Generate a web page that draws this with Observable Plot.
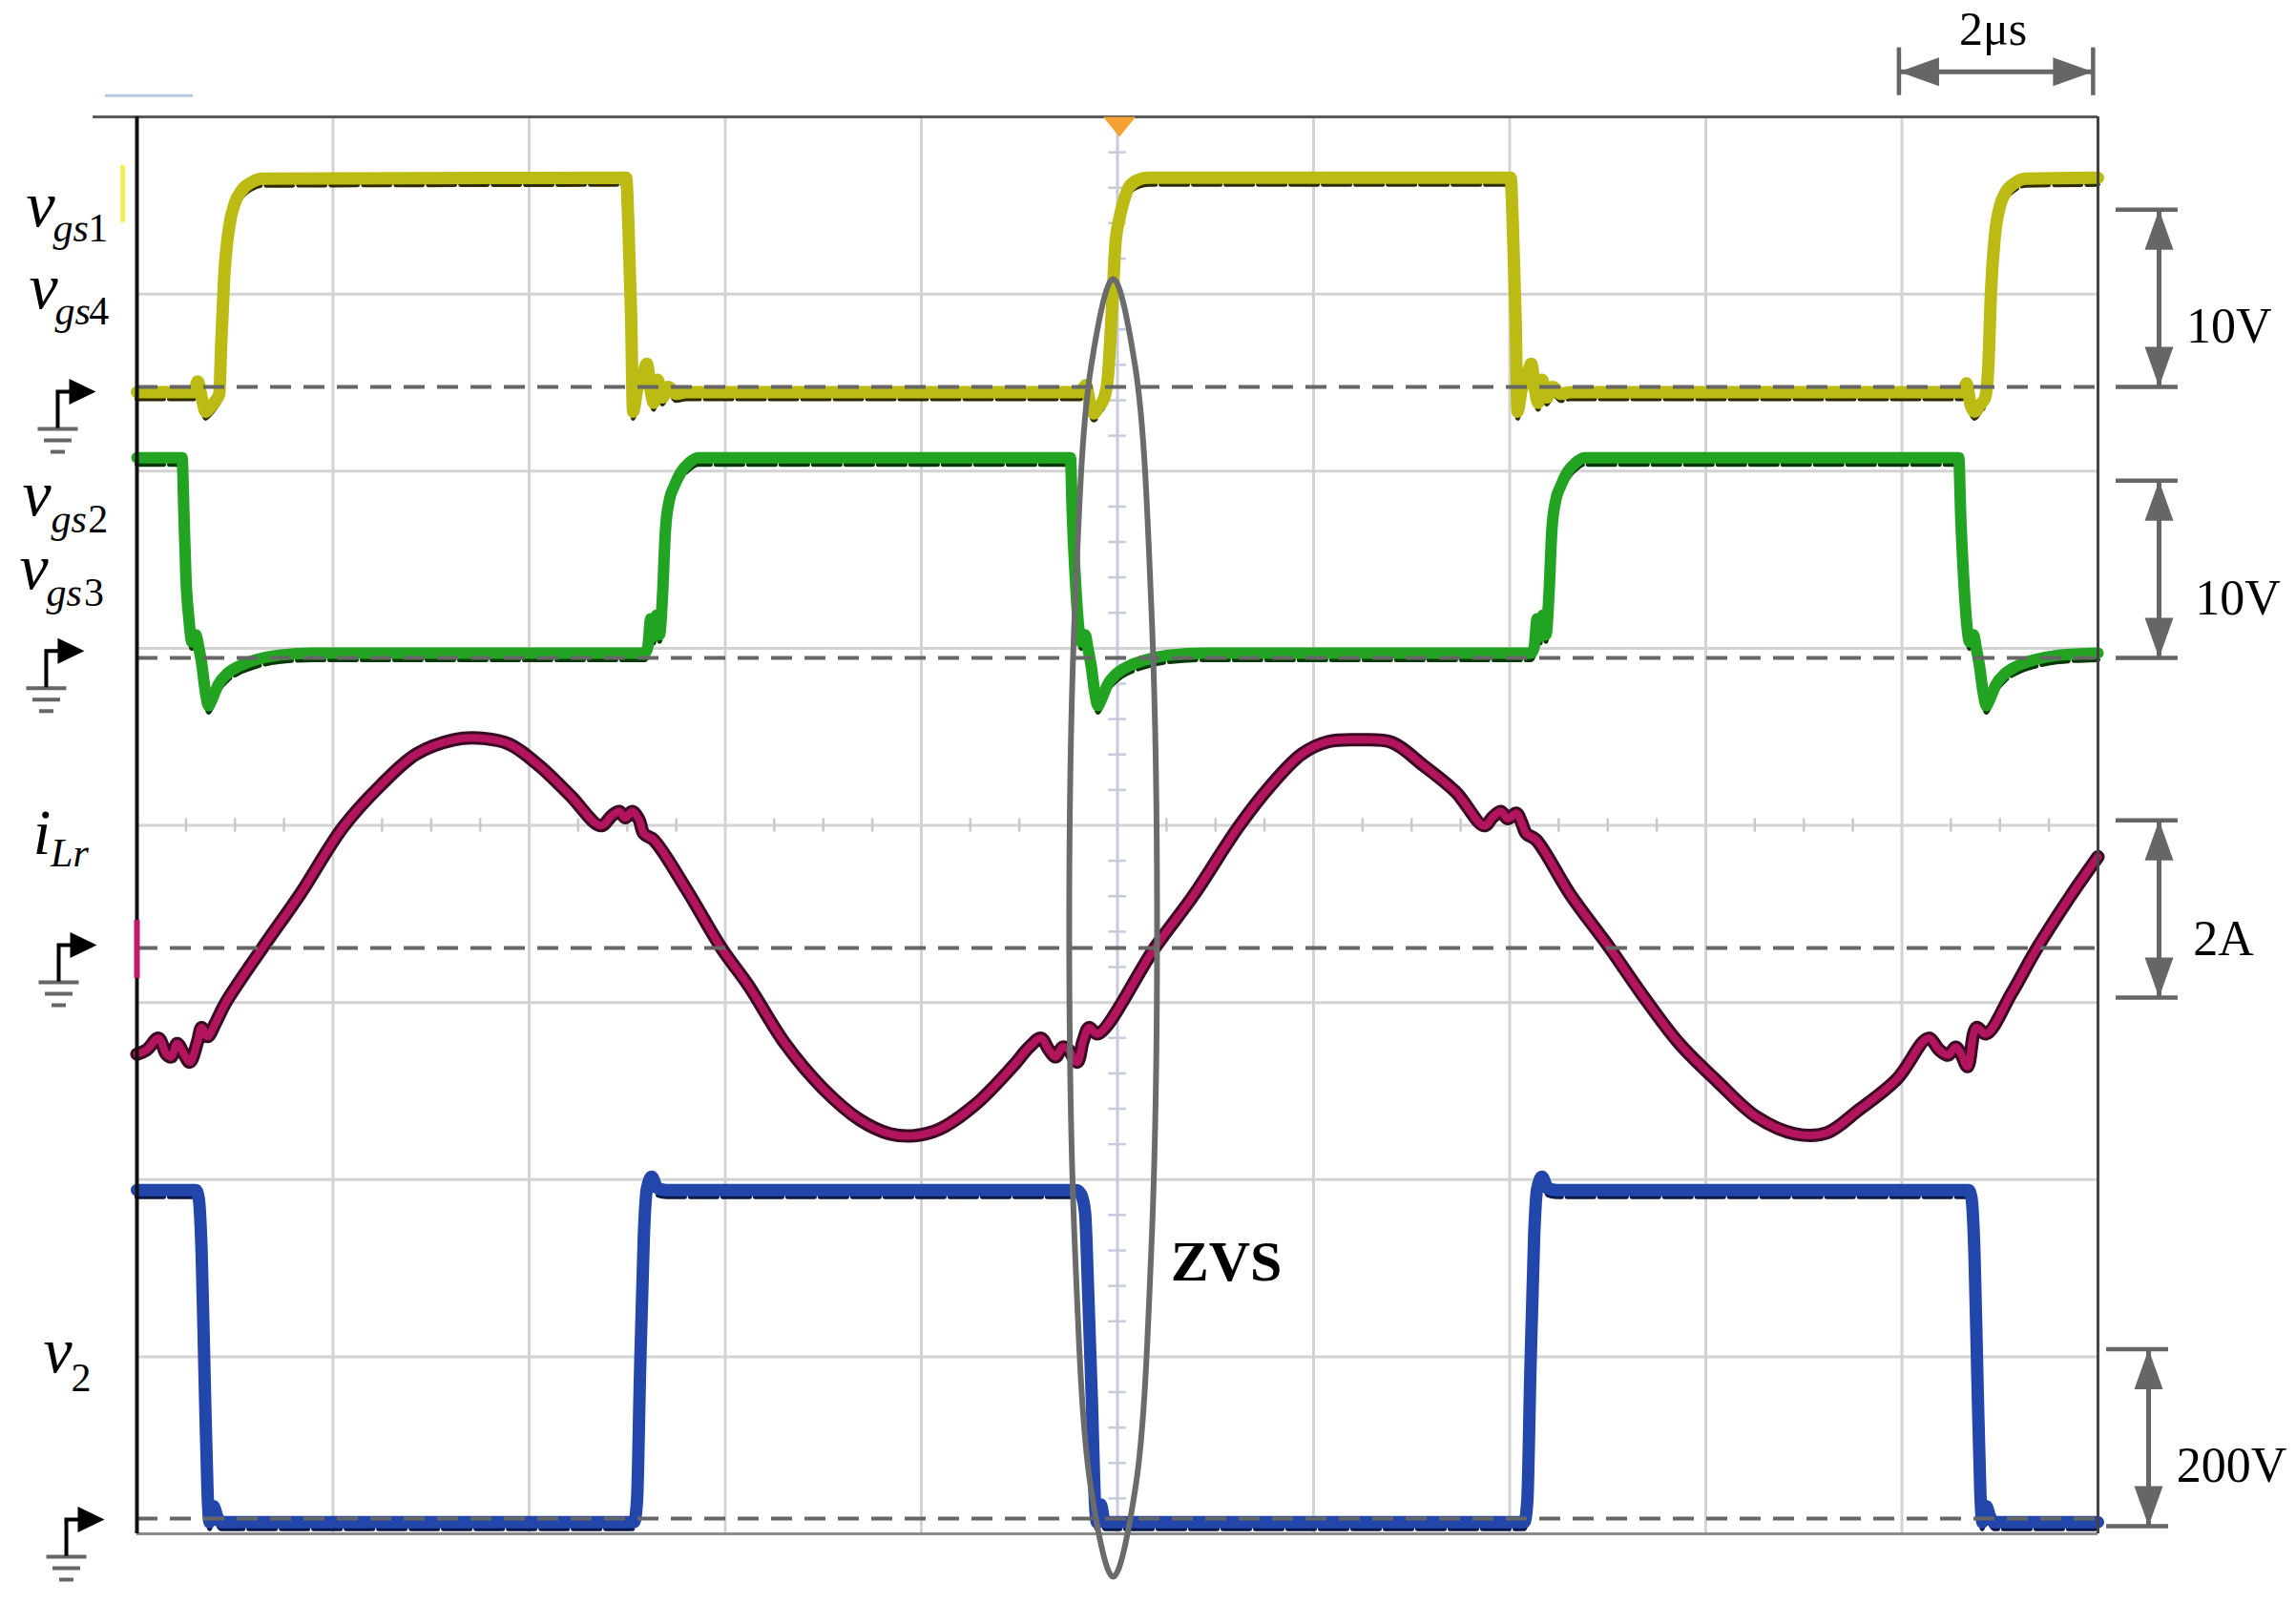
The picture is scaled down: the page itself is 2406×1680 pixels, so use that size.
<!DOCTYPE html>
<html>
<head>
<meta charset="utf-8">
<script src="https://cdn.jsdelivr.net/npm/d3@7"></script>
<script src="https://cdn.jsdelivr.net/npm/@observablehq/plot@0.6"></script>
<style>
  html, body { margin: 0; padding: 0; background: #fff; overflow: hidden; }
  svg { display: block; }
</style>
</head>
<body>
<div id="chart"></div>
<script>
// ---------------- DATA (time in µs, values in V or A) ----------------
const vgs14 = [
  [0, -0.3], [0.58, -0.3], [0.62, 0.3], [0.66, -0.6], [0.70, -1.4], [0.74, -1.2], [0.80, -0.8], [0.84, -0.4],
  [0.86, 2.5], [0.89, 6.2], [0.94, 9.0], [1.00, 10.4], [1.07, 11.1], [1.17, 11.55], [1.28, 11.75], [4.99, 11.8],
  [5.01, 9.5], [5.04, 4.0], [5.06, -1.4], [5.10, -0.2], [5.15, 0.4], [5.20, 1.3], [5.24, -0.2], [5.27, -0.9],
  [5.31, 0.4], [5.36, -0.6], [5.42, 0.0], [5.50, -0.4], [5.60, -0.3],
  [9.62, -0.3], [9.68, 0.1], [9.72, -1.0], [9.76, -1.5], [9.81, -1.1], [9.86, -0.7], [9.90, 0.4], [9.95, 5.0],
  [9.98, 8.1], [10.02, 9.5], [10.07, 10.6], [10.12, 11.3], [10.22, 11.7], [10.32, 11.8],
  [14.01, 11.8], [14.03, 9.5], [14.06, 4.0], [14.08, -1.4], [14.12, -0.2], [14.17, 0.4], [14.22, 1.3], [14.26, -0.2],
  [14.29, -0.9], [14.33, 0.4], [14.38, -0.6], [14.44, 0.0], [14.52, -0.4], [14.62, -0.3],
  [18.62, -0.3], [18.66, 0.2], [18.70, -1.0], [18.74, -1.4], [18.80, -1.0], [18.85, -0.6], [18.88, 1.0], [18.91, 5.5],
  [18.95, 8.6], [19.00, 10.2], [19.06, 11.0], [19.15, 11.5], [19.26, 11.75], [20, 11.8]
];
const vgs23 = [
  [0, 11.3], [0.46, 11.3], [0.48, 8.0], [0.50, 4.5], [0.53, 2.2], [0.56, 0.9], [0.60, 1.3], [0.63, 0.6], [0.66, -0.3],
  [0.70, -2.0], [0.73, -2.7], [0.77, -2.3], [0.83, -1.5], [0.92, -0.9], [1.05, -0.45], [1.22, -0.1], [1.45, 0.15], [1.8, 0.27],
  [5.18, 0.27], [5.21, 0.6], [5.24, 2.2], [5.27, 1.2], [5.30, 2.4], [5.33, 1.3], [5.36, 3.5], [5.39, 7.2], [5.43, 8.9],
  [5.48, 9.7], [5.55, 10.5], [5.63, 11.0], [5.72, 11.3],
  [9.52, 11.3], [9.54, 8.0], [9.57, 4.5], [9.60, 2.0], [9.63, 0.9], [9.67, 1.3], [9.70, 0.5], [9.73, -0.4], [9.77, -2.0],
  [9.80, -2.7], [9.84, -2.3], [9.90, -1.5], [9.99, -0.9], [10.12, -0.45], [10.30, -0.1], [10.52, 0.15], [10.9, 0.27],
  [14.22, 0.27], [14.25, 0.6], [14.28, 2.2], [14.31, 1.2], [14.34, 2.4], [14.37, 1.3], [14.40, 3.5], [14.43, 7.2],
  [14.47, 8.9], [14.52, 9.7], [14.59, 10.5], [14.67, 11.0], [14.76, 11.3],
  [18.58, 11.3], [18.60, 8.0], [18.63, 4.5], [18.66, 2.0], [18.69, 0.9], [18.73, 1.3], [18.76, 0.5], [18.79, -0.4],
  [18.83, -2.0], [18.86, -2.7], [18.90, -2.3], [18.96, -1.5], [19.05, -0.9], [19.18, -0.45], [19.36, -0.1], [19.6, 0.15], [20, 0.27]
];
const iLr = [
  [0, -1.2], [0.10, -1.15], [0.22, -1.02], [0.30, -1.2], [0.35, -1.23], [0.41, -1.08], [0.48, -1.2], [0.54, -1.29],
  [0.62, -1.05], [0.66, -0.9], [0.72, -1.0], [0.80, -0.85], [0.91, -0.61], [1.28, 0], [1.66, 0.60], [2.10, 1.36],
  [2.48, 1.83], [2.85, 2.19], [3.23, 2.35], [3.48, 2.37], [3.80, 2.30], [4.11, 2.05], [4.42, 1.72], [4.73, 1.38],
  [4.85, 1.50], [4.92, 1.54], [4.98, 1.47], [5.05, 1.54], [5.12, 1.45], [5.17, 1.29], [5.27, 1.22], [5.61, 0.65],
  [5.96, 0], [6.24, -0.43], [6.61, -1.08], [6.99, -1.58], [7.37, -1.94], [7.68, -2.1], [7.93, -2.12], [8.18, -2.05],
  [8.55, -1.77], [8.93, -1.34], [9.10, -1.12], [9.22, -1.02], [9.30, -1.15], [9.37, -1.23], [9.44, -1.12], [9.50, -1.15],
  [9.59, -1.29], [9.65, -1.05], [9.71, -0.9], [9.80, -0.97], [10.38, 0], [10.78, 0.60], [11.23, 1.36], [11.56, 1.83],
  [11.88, 2.19], [12.15, 2.33], [12.47, 2.35], [12.80, 2.32], [13.12, 2.06], [13.45, 1.76], [13.74, 1.38], [13.83, 1.48],
  [13.91, 1.54], [13.98, 1.46], [14.07, 1.52], [14.12, 1.42], [14.17, 1.29], [14.27, 1.22], [14.62, 0.6], [15.02, 0],
  [15.34, -0.51], [15.73, -1.08], [16.12, -1.51], [16.52, -1.91], [16.91, -2.1], [17.23, -2.09], [17.56, -1.83],
  [17.95, -1.48], [18.27, -1.02], [18.38, -1.15], [18.47, -1.21], [18.55, -1.12], [18.60, -1.19], [18.67, -1.34],
  [18.76, -0.9], [18.86, -0.97], [19.12, -0.51], [19.38, 0], [19.71, 0.57], [20, 1.03]
];
const v2 = [
  [0, 371], [0.60, 371], [0.63, 362], [0.66, 300], [0.69, 160], [0.72, 30], [0.74, -4], [0.78, 14], [0.82, 2], [0.86, -4],
  [5.07, -4], [5.10, 20], [5.13, 160], [5.17, 320], [5.20, 372], [5.25, 386], [5.31, 373], [5.40, 371],
  [9.58, 371], [9.63, 366], [9.67, 345], [9.70, 260], [9.74, 130], [9.77, 20], [9.79, -4], [9.83, 16], [9.87, -4],
  [14.15, -4], [14.18, 20], [14.21, 160], [14.25, 320], [14.28, 372], [14.33, 386], [14.39, 373], [14.48, 371],
  [18.68, 371], [18.71, 362], [18.74, 300], [18.77, 160], [18.80, 30], [18.82, -4], [18.86, 14], [18.90, 2], [18.94, -4], [20, -4]
];

// scope settings: time base 2 µs/div (10 div), 8 vertical divisions
const timeGrid = [2, 4, 6, 8, 10, 12, 14, 16, 18];
const divGrid = [1, 2, 3, 4, 5, 6, 7];
const scaleTexts = ["10V", "10V", "2A", "200V"];
const timeScaleText = "2μs";

// ---------------- CHANNEL SETUP (offsets in divisions, units per division, styles) ----------------
const channels = [
  {data: vgs14, ground: 6.476, perDiv: 10, color: "#bbbb14", dark: "#2c2c00", w: 13, outline: false, curve: "monotone-x"},
  {data: vgs23, ground: 4.946, perDiv: 10, color: "#22a322", dark: "#083808", w: 12, outline: false, curve: "monotone-x"},
  {data: iLr,   ground: 3.308, perDiv: 2,  color: "#b2155e", dark: "#3a0a22", w: 8,  outline: true, curve: "catmull-rom"},
  {data: v2,    ground: 0.086, perDiv: 200, color: "#2246aa", dark: "#08184a", w: 13, outline: false, curve: "monotone-x"}
];
const toDiv = (ch, v) => ch.ground + v / ch.perDiv;
const traces = channels.map(ch => ch.data.map(([t, v]) => ({t, y: toDiv(ch, v)})));

// scale bars (value span in channel units)
const bars = [
  {ch: 0, lo: 0, span: 10, cap: [20.185, 20.817], at: 20.623, label: [20.90, 6.724]},
  {ch: 1, lo: 0, span: 10, cap: [20.185, 20.817], at: 20.623, label: [20.99, 5.189]},
  {ch: 2, lo: -0.56, span: 2, cap: [20.185, 20.817], at: 20.623, label: [20.97, 3.265]},
  {ch: 3, lo: -8.6, span: 200, cap: [20.088, 20.72], at: 20.516, label: [20.80, 0.296]}
].map((b, i) => ({...b, text: scaleTexts[i], y1: toDiv(channels[b.ch], b.lo), y2: toDiv(channels[b.ch], b.lo + b.span)}));

// left labels
const leftLabels = [
  {main: "v", sub: "gs", num: "1", m: [-1.129, 7.381], s: [-0.856, 7.295], n: -0.50},
  {main: "v", sub: "gs", num: "4", m: [-1.10, 6.918], s: [-0.837, 6.826], n: -0.49},
  {main: "v", sub: "gs", num: "2", m: [-1.168, 5.749], s: [-0.876, 5.652], n: -0.50},
  {main: "v", sub: "gs", num: "3", m: [-1.197, 5.334], s: [-0.925, 5.237], n: -0.54},
  {main: "i", sub: "Lr", num: "",  m: [-1.061, 3.836], s: [-0.880, 3.766], n: 0},
  {main: "v", sub: "",   num: "2", m: [-0.954, 0.911], s: [-0.672, 0.808], n: -0.672}
];
const groundMarks = [[-0.808, 6.449], [-0.925, 4.984], [-0.798, 3.324], [-0.720, 0.081]];

// ZVS ellipse outline
const zvsEllipse = [
  [10.404, 3.421], [10.344, 5.253], [10.180, 6.594], [9.956, 7.085], [9.732, 6.594], [9.568, 5.253],
  [9.508, 3.421], [9.568, 1.589], [9.732, 0.248], [9.956, -0.243], [10.180, 0.248], [10.344, 1.589]
];

// ---------------- SYMBOLS ----------------
const arrowHead = {draw(c) { c.moveTo(0, 0); c.lineTo(15, 42); c.lineTo(-15, 42); c.closePath(); }};
const flagStem = {draw(c) { c.moveTo(0, 38); c.lineTo(0, 0); c.lineTo(16, 0); }};
const flagHead = {draw(c) { c.moveTo(40, 0); c.lineTo(12, -13.5); c.lineTo(12, 13.5); c.closePath(); }};
const groundSym = {draw(c) {
  c.moveTo(-21, 39); c.lineTo(21, 39);
  c.moveTo(-14.5, 51); c.lineTo(14.5, 51);
  c.moveTo(-7.5, 63); c.lineTo(7.5, 63);
}};
const trigSym = {draw(c) { c.moveTo(-17, 0); c.lineTo(17, 0); c.lineTo(0, 21); c.closePath(); }};

const serif = "Liberation Serif, Times New Roman, serif";
const gray = "#666";
const marks = [];

// grid
marks.push(Plot.ruleX(timeGrid.filter(t => t !== 10), {x: d => d, y1: 0, y2: 8, stroke: "#d3d3d3", strokeWidth: 3}));
marks.push(Plot.ruleY(divGrid, {y: d => d, x1: 0, x2: 20, stroke: "#d3d3d3", strokeWidth: 3}));
marks.push(Plot.ruleX([10], {x: d => d, y1: 0, y2: 8, stroke: "#c6cadb", strokeWidth: 3}));
const vTicks = d3.range(1, 40).filter(i => i % 5 !== 0).map(i => i * 0.2);
const hTicks = d3.range(1, 40).filter(i => i % 4 !== 0).map(i => i * 0.5);
marks.push(Plot.ruleY(vTicks, {y: d => d, x1: 9.91, x2: 10.09, stroke: "#c6cadb", strokeWidth: 2.5}));
marks.push(Plot.ruleX(hTicks, {x: d => d, y1: 3.962, y2: 4.038, stroke: "#c8c8c8", strokeWidth: 2.5}));

// traces
channels.forEach((ch, i) => {
  if (ch.outline) {
    marks.push(Plot.line(traces[i], {x: "t", y: "y", stroke: ch.dark, strokeWidth: ch.w + 6, curve: ch.curve, strokeLinejoin: "round"}));
  } else {
    marks.push(Plot.line(traces[i], {x: "t", y: "y", stroke: ch.dark, strokeWidth: 5, dy: 7, curve: ch.curve, strokeDasharray: "28,6"}));
  }
  marks.push(Plot.line(traces[i], {x: "t", y: "y", stroke: ch.color, strokeWidth: ch.w, curve: ch.curve, strokeLinejoin: "round"}));
});

// ground reference dashed lines
marks.push(Plot.ruleY(channels, {y: d => d.ground, x1: 0, x2: 20, stroke: gray, strokeWidth: 4, strokeDasharray: "22,13"}));

// frame
marks.push(Plot.ruleY([8], {y: d => d, x1: -0.447, x2: 20, stroke: "#5a5a5a", strokeWidth: 3}));
marks.push(Plot.ruleY([0], {y: d => d, x1: 0, x2: 20, stroke: "#8a8a8a", strokeWidth: 3}));
marks.push(Plot.ruleX([20], {x: d => d, y1: 0, y2: 8, stroke: "#444", strokeWidth: 3}));
marks.push(Plot.ruleX([0], {x: d => d, y1: 0, y2: 8, stroke: "#111", strokeWidth: 4}));
// channel markers at the left edge and top
marks.push(Plot.ruleX([0], {x: d => d, y1: 3.136, y2: 3.464, stroke: "#c2186a", strokeWidth: 6}));
marks.push(Plot.ruleX([-0.146], {x: d => d, y1: 7.403, y2: 7.726, stroke: "#f3ef55", strokeWidth: 5}));
marks.push(Plot.ruleY([8.12], {y: d => d, x1: -0.321, x2: 0.574, stroke: "#b9c9e6", strokeWidth: 3}));
marks.push(Plot.dot([[10.02, 8]], {x: d => d[0], y: d => d[1], symbol: trigSym, fill: "#f5a233", stroke: "none"}));

// ZVS ellipse and label
marks.push(Plot.line(zvsEllipse, {x: d => d[0], y: d => d[1], curve: "catmull-rom-closed", stroke: "#6b6b6b", strokeWidth: 6}));
marks.push(Plot.text([[11.11, 1.428]], {x: d => d[0], y: d => d[1], text: () => "ZVS", fontFamily: serif, fontWeight: "bold", fontSize: 60, textAnchor: "middle", lineAnchor: "bottom", fill: "#000"}));

// left channel labels
marks.push(Plot.text(leftLabels, {x: d => d.m[0], y: d => d.m[1], text: "main", fontFamily: serif, fontStyle: "italic", fontSize: 68, textAnchor: "start", lineAnchor: "bottom", fill: "#000"}));
marks.push(Plot.text(leftLabels.filter(d => d.sub), {x: d => d.s[0], y: d => d.s[1], text: "sub", fontFamily: serif, fontStyle: "italic", fontSize: 42, textAnchor: "start", lineAnchor: "bottom", fill: "#000"}));
marks.push(Plot.text(leftLabels.filter(d => d.num), {x: d => d.n, y: d => d.s[1], text: "num", fontFamily: serif, fontSize: 42, textAnchor: "start", lineAnchor: "bottom", fill: "#000"}));

// ground symbols
marks.push(Plot.dot(groundMarks, {x: d => d[0], y: d => d[1], symbol: groundSym, stroke: gray, strokeWidth: 4, fill: "none"}));
marks.push(Plot.dot(groundMarks, {x: d => d[0], y: d => d[1], symbol: flagStem, stroke: "#000", strokeWidth: 4, fill: "none"}));
marks.push(Plot.dot(groundMarks, {x: d => d[0], y: d => d[1], symbol: flagHead, fill: "#000", stroke: "none"}));

// vertical scale bars
marks.push(Plot.ruleY(bars, {y: "y1", x1: d => d.cap[0], x2: d => d.cap[1], stroke: gray, strokeWidth: 4.5}));
marks.push(Plot.ruleY(bars, {y: "y2", x1: d => d.cap[0], x2: d => d.cap[1], stroke: gray, strokeWidth: 4.5}));
marks.push(Plot.ruleX(bars, {x: "at", y1: "y1", y2: "y2", stroke: gray, strokeWidth: 5}));
marks.push(Plot.dot(bars, {x: "at", y: "y2", symbol: arrowHead, fill: gray, stroke: "none", rotate: 0}));
marks.push(Plot.dot(bars, {x: "at", y: "y1", symbol: arrowHead, fill: gray, stroke: "none", rotate: 180}));
marks.push(Plot.text(bars, {x: d => d.label[0], y: d => d.label[1], text: "text", fontFamily: serif, fontSize: 52, textAnchor: "start", lineAnchor: "bottom", fill: "#000"}));

// time scale bar (2 µs = one division)
const tBar = {t1: 17.97, t2: 19.95, y: 8.254, c1: 8.12, c2: 8.39};
marks.push(Plot.ruleX([tBar.t1, tBar.t2], {x: d => d, y1: tBar.c1, y2: tBar.c2, stroke: gray, strokeWidth: 4.5}));
marks.push(Plot.ruleY([tBar.y], {y: d => d, x1: tBar.t1, x2: tBar.t2, stroke: gray, strokeWidth: 5}));
marks.push(Plot.dot([tBar.t1], {x: d => d, y: tBar.y, symbol: arrowHead, fill: gray, stroke: "none", rotate: 270}));
marks.push(Plot.dot([tBar.t2], {x: d => d, y: tBar.y, symbol: arrowHead, fill: gray, stroke: "none", rotate: 90}));
marks.push(Plot.text([timeScaleText], {x: 18.93, y: 8.405, text: d => d, fontFamily: serif, fontSize: 50, textAnchor: "middle", lineAnchor: "bottom", fill: "#000"}));

const chart = Plot.plot({
  width: 2406,
  height: 1680,
  marginLeft: 143,
  marginRight: 208,
  marginTop: 122,
  marginBottom: 73,
  x: {domain: [0, 20], axis: null},
  y: {domain: [0, 8], axis: null},
  style: {background: "#fff", overflow: "visible"},
  marks
});
document.getElementById("chart").appendChild(chart);
</script>
</body>
</html>
